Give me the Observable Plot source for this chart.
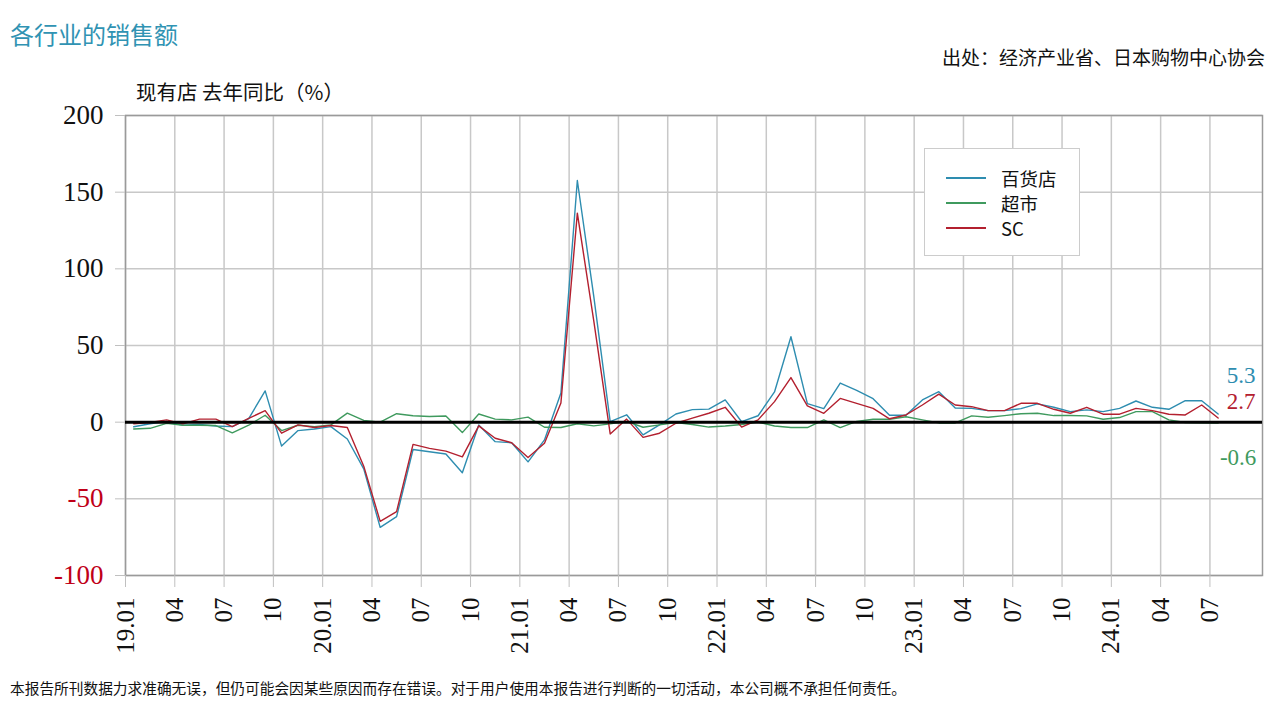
<!DOCTYPE html>
<html>
<head>
<meta charset="utf-8">
<script src="https://cdn.jsdelivr.net/npm/d3@7"></script>
<script src="https://cdn.jsdelivr.net/npm/@observablehq/plot@0.6"></script>
<style>
  body { margin: 0; background: #fff; }
  #wrap { position: relative; width: 1280px; height: 720px; overflow: hidden; font-family: "Noto Sans CJK SC", "Noto Sans", sans-serif; color: #111; }
  #chart { position: absolute; left: 0; top: 0; }
  .txt { position: absolute; white-space: nowrap; }
  #title { left: 10px; top: 20px; font-size: 24px; line-height: 28px; color: #3093b3; }
  #source { right: 15px; top: 46px; font-size: 19px; line-height: 22px; }
  #ylab { left: 136px; top: 79px; font-size: 20.5px; line-height: 24px; }
  #foot { left: 10px; top: 679px; font-size: 14.7px; line-height: 18px; }
  #legend { position: absolute; left: 924px; top: 148px; width: 154px; height: 106px; border: 1px solid #ccc; background: #fff; }
  .row { position: absolute; left: 0; height: 24px; }
  .sw { position: absolute; left: 21px; top: 11px; width: 40px; height: 0; border-top: 2px solid; }
  .lt { position: absolute; left: 76px; top: 0; font-size: 18.5px; line-height: 24px; }
</style>
</head>
<body>
<div id="wrap">
  <div id="chart"></div>
  <div class="txt" id="title">各行业的销售额</div>
  <div class="txt" id="source">出处：经济产业省、日本购物中心协会</div>
  <div class="txt" id="ylab">现有店 去年同比（%）</div>
  <div id="legend"></div>
  <div class="txt" id="foot">本报告所刊数据力求准确无误，但仍可能会因某些原因而存在错误。对于用户使用本报告进行判断的一切活动，本公司概不承担任何责任。</div>
</div>
<script>
// Series names and colours
const seriesNames = ["百货店", "超市", "SC"];
const seriesColors = ["#2e8db0", "#3f9a5e", "#b3202f"];

// Monthly YoY (%) from 2019.01 to 2024.07
const deptStore = [
  -3.0, -1.0, 0.5, -2.0, -1.5, -2.5, -2.9, 2.3, 20.4, -15.6,
  -5.5, -4.5, -2.9, -11.0, -30.5, -68.6, -61.6, -17.8, -19.3, -20.8,
  -33.0, -1.8, -12.7, -13.4, -25.9, -11.6, 19.0, 157.6, 82.0, 0.4,
  4.8, -8.3, -1.8, 5.3, 8.2, 8.5, 14.5, 0.3, 4.2, 19.7,
  55.7, 12.1, 8.8, 25.5, 20.7, 15.3, 4.5, 4.5, 14.5, 19.9,
  9.2, 9.0, 7.5, 7.5, 8.8, 11.9, 9.7, 6.9, 8.0, 6.9,
  9.0, 13.8, 9.7, 8.4, 14.0, 14.0, 5.3
];
const supermarket = [
  -4.5, -4.0, -0.8, -2.0, -2.0, -2.2, -7.0, -2.0, 4.5, -5.5,
  -2.0, -2.9, -1.8, 5.9, 1.1, 0.0, 5.5, 4.2, 3.7, 4.0,
  -6.8, 5.3, 2.0, 1.5, 3.3, -3.3, -3.5, -1.0, -2.4, -1.1,
  0.5, -3.3, -1.8, -0.2, -1.5, -3.2, -2.5, -1.5, 0.0, -2.5,
  -3.5, -3.5, 1.5, -3.5, 0.5, 1.9, 1.9, 3.5, 1.5, -0.5,
  -0.5, 4.1, 3.2, 4.3, 5.5, 5.8, 4.3, 4.3, 4.1, 1.9,
  3.0, 6.9, 6.9, 1.5, -0.2, -0.4, -0.6
];
const shoppingCenter = [
  -1.0, -0.2, 1.5, -1.1, 2.0, 2.0, -2.9, 2.5, 7.5, -7.2,
  -1.8, -3.5, -2.2, -3.5, -28.7, -64.7, -58.3, -14.5, -17.1, -18.9,
  -22.6, -2.4, -10.5, -13.4, -23.0, -13.8, 12.5, 136.3, 66.0, -7.7,
  2.0, -9.9, -7.2, -0.7, 2.6, 5.8, 9.7, -3.2, 1.5, 13.4,
  29.1, 10.6, 5.8, 15.5, 12.3, 9.0, 2.2, 4.7, 11.2, 18.3,
  11.2, 10.1, 7.5, 7.5, 12.3, 12.3, 8.4, 5.8, 9.7, 5.2,
  5.2, 9.0, 7.5, 5.2, 4.7, 11.2, 2.7
];

// X tick labels, one every 3 months starting at 2019.01
const xTickLabels = [
  "19.01", "04", "07", "10",
  "20.01", "04", "07", "10",
  "21.01", "04", "07", "10",
  "22.01", "04", "07", "10",
  "23.01", "04", "07", "10",
  "24.01", "04", "07"
];
const yTicksPos = [0, 50, 100, 150, 200];
const yTicksNeg = [-50, -100];

// Build long table: points sit at mid-month
const allSeries = [deptStore, supermarket, shoppingCenter];
const rows = [];
allSeries.forEach((arr, s) => arr.forEach((v, i) => rows.push({ series: seriesNames[s], x: i + 0.5, y: v })));
const lastRows = allSeries.map((arr, s) => ({ series: seriesNames[s], x: arr.length - 0.5, y: arr[arr.length - 1], label: String(arr[arr.length - 1]) }));
const xTicks = xTickLabels.map((_, k) => k * 3);

const serif = "Liberation Serif, DejaVu Serif, serif";
const labelOffsets = [{ dx: 23, dy: -38 }, { dx: 20, dy: 35 }, { dx: 23, dy: -16 }];

const chart = Plot.plot({
  width: 1280,
  height: 720,
  marginLeft: 125,
  marginRight: 18,
  marginTop: 115,
  marginBottom: 145,
  style: { fontFamily: serif, background: "transparent", overflow: "visible" },
  x: { type: "linear", domain: [0, 69.2] },
  y: { domain: [-100, 200] },
  color: { domain: seriesNames, range: seriesColors },
  marks: [
    Plot.gridX(xTicks, { stroke: "#c8c8c8", strokeOpacity: 1, strokeWidth: 1.5 }),
    Plot.gridY([...yTicksNeg, ...yTicksPos], { stroke: "#c8c8c8", strokeOpacity: 1, strokeWidth: 1.5 }),
    Plot.frame({ stroke: "#9a9a9a", strokeWidth: 1.5 }),
    Plot.axisY(yTicksPos, { tickSize: 10, tickPadding: 12, stroke: "#c0c0c0", fill: "#111", fontSize: 27, fontFamily: serif, tickFormat: d => String(d), label: null }),
    Plot.axisY(yTicksNeg, { tickSize: 10, tickPadding: 12, stroke: "#c0c0c0", fill: "#c00018", fontSize: 27, fontFamily: serif, tickFormat: d => String(d), label: null }),
    Plot.axisX(xTicks, { tickSize: 12, tickPadding: 10, stroke: "#c0c0c0", fill: "#111", tickRotate: -90, fontSize: 25, fontFamily: serif, tickFormat: d => xTickLabels[Math.round(d / 3)], label: null }),
    Plot.line(rows, { x: "x", y: "y", z: "series", stroke: "series", strokeWidth: 1.4 }),
    Plot.ruleY([0], { stroke: "#000", strokeWidth: 3 }),
    ...lastRows.map((r, s) => Plot.text([r], { x: "x", y: "y", text: "label", fill: seriesColors[s], fontSize: 23, fontFamily: serif, textAnchor: "middle", dx: labelOffsets[s].dx, dy: labelOffsets[s].dy }))
  ]
});
document.getElementById("chart").appendChild(chart);

// Legend
const legend = document.getElementById("legend");
seriesNames.forEach((name, s) => {
  const row = document.createElement("div");
  row.className = "row";
  row.style.top = (17 + s * 25) + "px";
  row.style.width = "150px";
  const sw = document.createElement("div");
  sw.className = "sw";
  sw.style.borderTopColor = seriesColors[s];
  const t = document.createElement("div");
  t.className = "lt";
  t.textContent = name;
  row.appendChild(sw);
  row.appendChild(t);
  legend.appendChild(row);
});
</script>
</body>
</html>
